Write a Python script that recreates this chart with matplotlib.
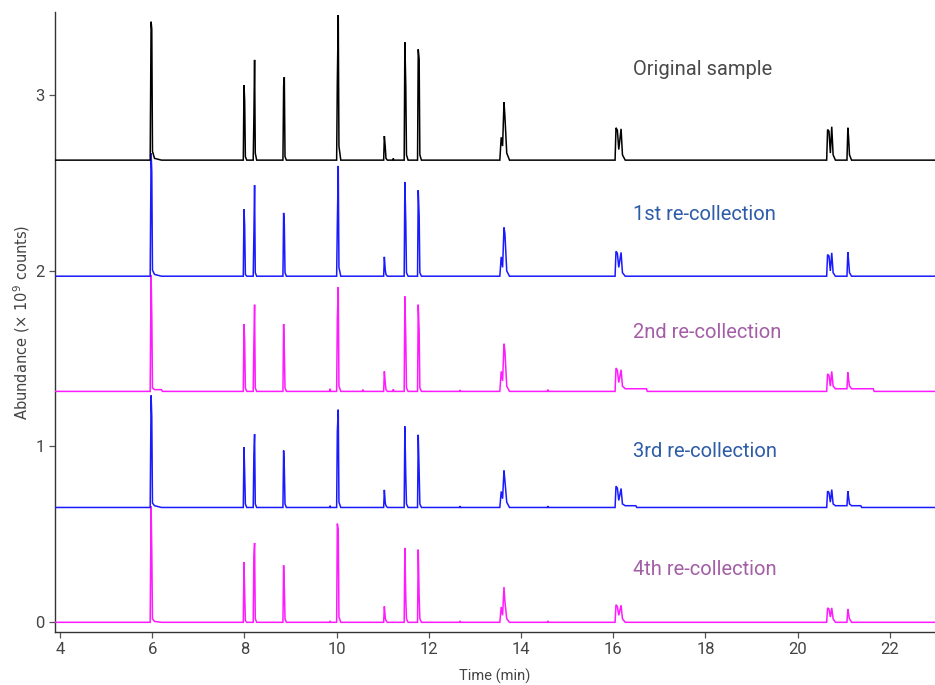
import matplotlib
matplotlib.use("Agg")
import matplotlib.pyplot as plt
import numpy as np

# Shared retention-time sampling points (min)
TIME = [
    3.89,
    5.955, 5.975, 5.99, 6.005, 6.05, 6.20, 6.22,          # peak ~6.0
    7.975, 7.99, 8.005, 8.02, 8.05,                       # ~8.0
    8.19, 8.205, 8.22, 8.235, 8.265,                      # ~8.2
    8.835, 8.85, 8.865, 8.88, 8.91,                       # ~8.85
    9.85, 9.86, 9.87,                                     # small
    10.0, 10.015, 10.035, 10.05, 10.09,                   # ~10.0
    10.56, 10.57, 10.58,                                  # small
    11.02, 11.035, 11.055, 11.07, 11.10,                  # ~11.05
    11.22, 11.23, 11.24,                                  # small
    11.465, 11.48, 11.50, 11.515, 11.55,                  # ~11.5
    11.755, 11.77, 11.79, 11.805, 11.84,                  # ~11.8
    12.67, 12.68, 12.69,                                  # small
    13.54, 13.57, 13.60, 13.63, 13.65, 13.69, 13.75,      # ~13.6
    14.57, 14.58, 14.59,                                  # small
    16.04, 16.06, 16.09, 16.12, 16.17, 16.20, 16.26, 16.49, 16.51, 16.72, 16.74,  # ~16.1
    20.63, 20.65, 20.68, 20.71, 20.74, 20.77, 20.82,      # ~20.7
    21.07, 21.09, 21.105, 21.125, 21.17, 21.37, 21.39, 21.64, 21.66,  # ~21.1
    23.0,
]

# Abundance (x10^9 counts) above each trace's own baseline
ORIGINAL = [
    0,
    0, 0.787, 0.745, 0.05, 0.01, 0, 0,
    0, 0.427, 0.336, 0.02, 0,
    0, 0.245, 0.57, 0.04, 0,
    0, 0.42, 0.472, 0.02, 0,
    0, 0, 0,
    0, 0.45, 0.825, 0.08, 0,
    0, 0, 0,
    0, 0.137, 0.074, 0.01, 0,
    0, 0.01, 0,
    0, 0.67, 0.42, 0.03, 0,
    0, 0.63, 0.574, 0.03, 0,
    0, 0, 0,
    0, 0.13, 0.08, 0.33, 0.25, 0.04, 0,
    0, 0, 0,
    0, 0.184, 0.17, 0.06, 0.178, 0.03, 0, 0, 0, 0, 0,
    0, 0.174, 0.165, 0.04, 0.19, 0.03, 0,
    0, 0.184, 0.13, 0.03, 0, 0, 0, 0, 0,
    0,
]

RECOLL_1 = [
    0,
    0, 0.70, 0.593, 0.034, 0.01, 0, 0,
    0, 0.381, 0.286, 0.01, 0,
    0, 0.239, 0.518, 0.02, 0,
    0, 0.36, 0.296, 0.02, 0,
    0, 0, 0,
    0, 0.296, 0.627, 0.05, 0,
    0, 0, 0,
    0, 0.11, 0.034, 0.01, 0,
    0, 0, 0,
    0, 0.536, 0.305, 0.02, 0,
    0, 0.489, 0.343, 0.02, 0,
    0, 0, 0,
    0, 0.11, 0.05, 0.277, 0.243, 0.03, 0,
    0, 0, 0,
    0, 0.142, 0.13, 0.05, 0.135, 0.02, 0, 0, 0, 0, 0,
    0, 0.123, 0.115, 0.03, 0.133, 0.02, 0,
    0, 0.137, 0.09, 0.02, 0, 0, 0, 0, 0,
    0,
]

RECOLL_2 = [
    0,
    0, 0.66, 0.436, 0.02, 0.01, 0.01, 0,
    0, 0.383, 0.284, 0.02, 0,
    0, 0.28, 0.493, 0.02, 0,
    0, 0.383, 0.237, 0.02, 0,
    0, 0.015, 0,
    0, 0.411, 0.593, 0.03, 0,
    0, 0.01, 0,
    0, 0.114, 0.047, 0.01, 0,
    0, 0.012, 0,
    0, 0.54, 0.303, 0.02, 0,
    0, 0.493, 0.341, 0.02, 0,
    0, 0.008, 0,
    0, 0.114, 0.06, 0.271, 0.231, 0.03, 0,
    0, 0.01, 0,
    0, 0.133, 0.12, 0.05, 0.123, 0.03, 0.015, 0.015, 0.015, 0.015, 0,
    0, 0.10, 0.09, 0.03, 0.114, 0.03, 0.015,
    0.015, 0.108, 0.07, 0.03, 0.015, 0.015, 0.015, 0.015, 0,
    0,
]

RECOLL_3 = [
    0,
    0, 0.637, 0.518, 0.025, 0.01, 0, 0,
    0, 0.343, 0.201, 0.02, 0,
    0, 0.303, 0.417, 0.02, 0,
    0, 0.324, 0.224, 0.02, 0,
    0, 0.01, 0,
    0, 0.432, 0.556, 0.03, 0,
    0, 0, 0,
    0, 0.10, 0.025, 0.01, 0,
    0, 0, 0,
    0, 0.461, 0.176, 0.02, 0,
    0, 0.413, 0.201, 0.02, 0,
    0, 0.008, 0,
    0, 0.091, 0.05, 0.21, 0.154, 0.03, 0,
    0, 0.008, 0,
    0, 0.121, 0.11, 0.04, 0.108, 0.02, 0.01, 0.01, 0, 0, 0,
    0, 0.093, 0.085, 0.03, 0.102, 0.02, 0.01,
    0.01, 0.093, 0.06, 0.02, 0.01, 0.01, 0, 0, 0,
    0,
]

RECOLL_4 = [
    0,
    0, 0.66, 0.404, 0.02, 0.005, 0, 0,
    0, 0.343, 0.167, 0.01, 0,
    0, 0.375, 0.451, 0.02, 0,
    0, 0.324, 0.201, 0.02, 0,
    0, 0.008, 0,
    0, 0.561, 0.527, 0.03, 0,
    0, 0, 0,
    0, 0.091, 0.025, 0.01, 0,
    0, 0, 0,
    0, 0.423, 0.138, 0.02, 0,
    0, 0.413, 0.148, 0.02, 0,
    0, 0.008, 0,
    0, 0.087, 0.04, 0.201, 0.119, 0.02, 0,
    0, 0.008, 0,
    0, 0.10, 0.09, 0.04, 0.097, 0.02, 0, 0, 0, 0, 0,
    0, 0.082, 0.075, 0.03, 0.082, 0.02, 0,
    0, 0.076, 0.05, 0.02, 0, 0, 0, 0, 0,
    0,
]

LABELS = ["Original sample", "1st re-collection", "2nd re-collection",
          "3rd re-collection", "4th re-collection"]
SERIES = [ORIGINAL, RECOLL_1, RECOLL_2, RECOLL_3, RECOLL_4]
OFFSETS = [2.628, 1.968, 1.313, 0.653, 0.0]
LINE_COLORS = ["#000000", "#1a1aff", "#ff1aff", "#1a1aff", "#ff1aff"]
TEXT_COLORS = ["#4a4a4a", "#2d5ca8", "#a35ea6", "#2d5ca8", "#a35ea6"]
LABEL_Y = [3.146, 2.32, 1.646, 0.973, 0.30]

fig = plt.figure(figsize=(9.35, 6.85), dpi=100)
ax = fig.add_axes([0.0588, 0.0774, 0.9412, 0.905])

t = np.array(TIME)
n = len(SERIES)
for i, (vals, off, c) in enumerate(zip(SERIES, OFFSETS, LINE_COLORS)):
    ax.plot(t, np.array(vals) + off, color=c, lw=1.1, zorder=10 + (n - i),
            solid_joinstyle="miter")

for lab, y, c in zip(LABELS, LABEL_Y, TEXT_COLORS):
    ax.text(16.43, y, lab, color=c, fontsize=14.5, family=["Roboto", "DejaVu Sans"],
            va="center", ha="left")

ax.set_xlim(3.89, 22.98)
ax.set_ylim(-0.055, 3.47)
ax.set_xticks(np.arange(4, 23, 2))
ax.set_yticks([0, 1, 2, 3])

for s in ["top", "right"]:
    ax.spines[s].set_visible(False)
for s in ["left", "bottom"]:
    ax.spines[s].set_color("#333333")
    ax.spines[s].set_linewidth(1.0)

ax.tick_params(axis="both", colors="#555555", length=4, width=0.9,
               labelsize=12, labelcolor="#444444")
for lbl in ax.get_xticklabels() + ax.get_yticklabels():
    lbl.set_family(["Roboto", "DejaVu Sans"])

ax.set_xlabel("Time (min)", fontsize=10.5, color="#444444",
              family=["Roboto", "DejaVu Sans"], labelpad=8)
ax.set_ylabel("Abundance (× 10$^{9}$ counts)", fontsize=10.5, color="#444444",
              family=["Liberation Sans Narrow", "DejaVu Sans"], labelpad=2)

fig.savefig("out.png", dpi=100)
